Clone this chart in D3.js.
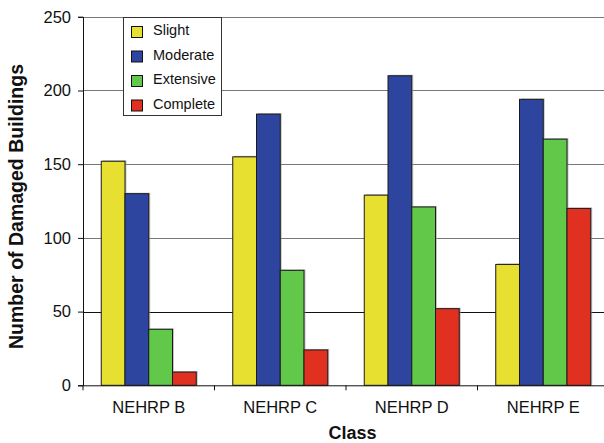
<!DOCTYPE html>
<html><head><meta charset="utf-8">
<script src="https://cdn.jsdelivr.net/npm/d3@7"></script>
<style>body{margin:0;background:#fff}svg{display:block}text{font-family:"Liberation Sans",Arial,sans-serif}</style>
</head><body><svg id="c" width="604" height="443"></svg>
<script>
const categories = ["NEHRP B","NEHRP C","NEHRP D","NEHRP E"];
const seriesNames = ["Slight","Moderate","Extensive","Complete"];
const slight    = [152,155,129,82];
const moderate  = [130,184,210,194];
const extensive = [38,78,121,167];
const complete  = [9,24,52,120];
const yTicks = [0,50,100,150,200,250];
const colors = ["#E8E030","#2E45A0","#62C84A","#E03020"];

const series = [slight,moderate,extensive,complete];
const svg = d3.select("#c");
const L=83, R=609, T=16.8, B=385.3;
const x = d3.scaleBand().domain(categories).range([L,R]);
const x1 = d3.scaleBand().domain(seriesNames).range([0,95]);
const y = d3.scaleLinear().domain([0,250]).range([B,T]);

// gridlines
svg.append("g").selectAll("line").data(yTicks.filter(d=>d>0)).join("line")
  .attr("x1",L).attr("x2",604).attr("y1",d=>Math.round(y(d))+0.5).attr("y2",d=>Math.round(y(d))+0.5)
  .attr("stroke",d=>d===50?"#111":"#777").attr("stroke-width",1);

// bars
const groups = svg.append("g").selectAll("g").data(categories).join("g")
  .attr("transform",c=>`translate(${x(c)+(x.bandwidth()-95)/2},0)`);
groups.each(function(c,ci){
  const g=d3.select(this);
  seriesNames.forEach((s,si)=>{
    const v=series[si][ci];
    g.append("rect").attr("x",x1(s)+1.5).attr("y",y(v)-1).attr("width",x1.bandwidth()).attr("height",B-y(v)+1)
      .attr("fill","#999").attr("opacity",0.6);
    g.append("rect").attr("x",x1(s)).attr("y",y(v)).attr("width",x1.bandwidth()).attr("height",B-y(v))
      .attr("fill",colors[si]).attr("stroke","#1a1a1a").attr("stroke-width",1);
  });
});

// y axis
const ya = svg.append("g").attr("transform",`translate(${L},0)`)
  .call(d3.axisLeft(y).tickValues(yTicks).tickSize(5).tickPadding(7));
ya.select(".domain").attr("stroke","#111");
ya.selectAll(".tick line").attr("stroke","#111");
ya.selectAll("text").attr("font-size",16.5).attr("fill","#111").style("font-family","Liberation Sans, Arial, sans-serif");

// x axis
const xa = svg.append("g").attr("transform",`translate(0,${B})`)
  .call(d3.axisBottom(x).tickSize(0).tickPadding(16));
xa.select(".domain").attr("stroke","#111").attr("d",`M${L},0.5H604`);
xa.selectAll("text").attr("font-size",16.5).attr("fill","#111").style("font-family","Liberation Sans, Arial, sans-serif");
svg.append("g").selectAll("line").data(categories).join("line")
  .attr("x1",c=>x(c)).attr("x2",c=>x(c)).attr("y1",B).attr("y2",B+5).attr("stroke","#111");

// titles
svg.append("text").attr("x",352.5).attr("y",439).attr("text-anchor","middle")
  .attr("font-size",18).attr("font-weight","bold").attr("fill","#111").text("Class");
svg.append("text").attr("transform","translate(23,206.5) rotate(-90)").attr("text-anchor","middle")
  .attr("font-size",19.5).attr("font-weight","bold").attr("fill","#111").text("Number of Damaged Buildings");

// legend
const lg = svg.append("g");
lg.append("rect").attr("x",123.5).attr("y",17.5).attr("width",98).attr("height",98)
  .attr("fill","#fff").attr("stroke","#333");
seriesNames.forEach((s,i)=>{
  const cy = 32+i*24.5;
  lg.append("rect").attr("x",131.5).attr("y",cy-5.5).attr("width",11).attr("height",11)
    .attr("fill",colors[i]).attr("stroke","#111");
  lg.append("text").attr("x",153).attr("y",cy+3).attr("font-size",14.5).attr("fill","#111").text(s);
});
</script></body></html>
